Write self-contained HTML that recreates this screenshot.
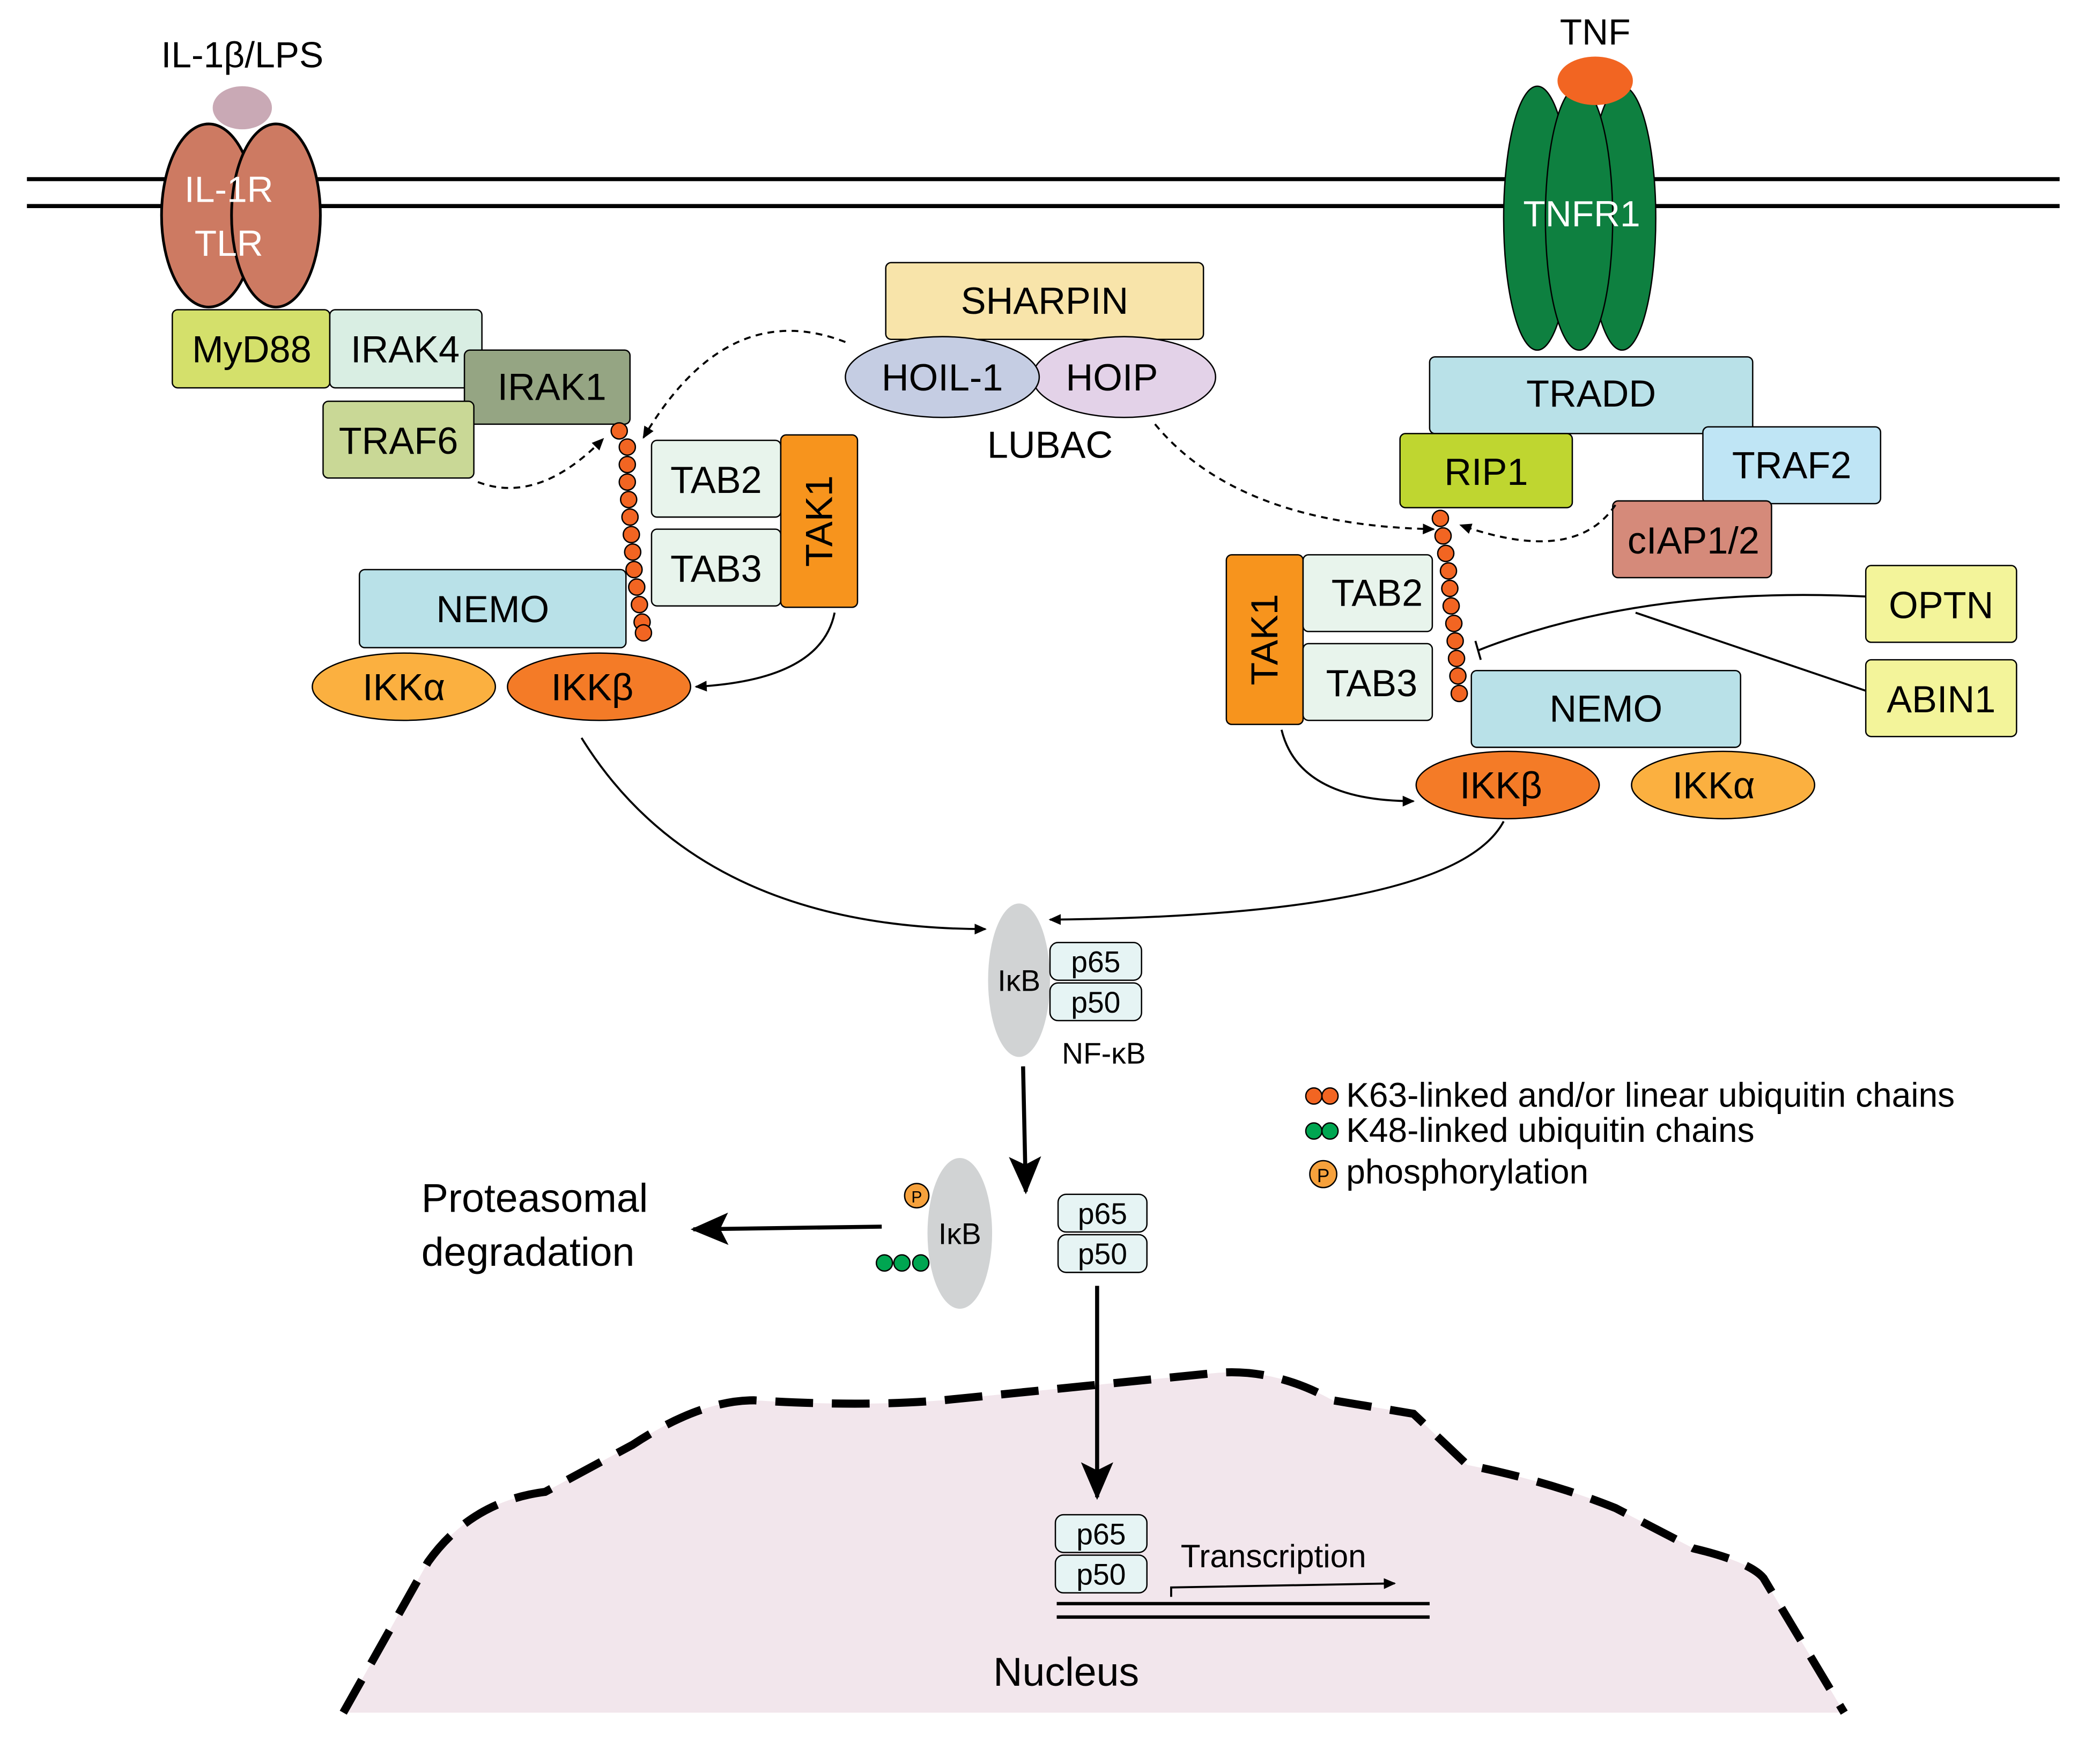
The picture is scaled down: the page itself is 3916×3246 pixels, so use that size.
<!DOCTYPE html>
<html><head><meta charset="utf-8"><style>
html,body{margin:0;padding:0;background:#fff;}
svg{display:block;}
text{font-family:"Liberation Sans",sans-serif;}
</style></head><body>
<svg width="3916" height="3246" viewBox="0 0 1560 1293" xmlns="http://www.w3.org/2000/svg">
<defs>
<marker id="a" markerWidth="10" markerHeight="10" refX="8" refY="5" orient="auto" markerUnits="userSpaceOnUse"><path d="M0,1 L9,5 L0,9 Z" fill="#000"/></marker>
<marker id="b" markerWidth="30" markerHeight="30" refX="26" refY="15" orient="auto" markerUnits="userSpaceOnUse"><path d="M0,3 L28,15 L0,27 L6,15 Z" fill="#000"/></marker>
</defs>
<rect width="1560" height="1293" fill="#fff"/>
<path d="M255,1272 L318,1160 Q350,1115 405,1108 L470,1073 Q520,1040 560,1040 Q640,1045 700,1040 Q800,1030 900,1020 Q945,1015 990,1040 L1050,1050 L1090,1088 Q1150,1100 1200,1120 L1258,1150 Q1300,1160 1310,1172 L1370,1272 Z" fill="#f2e6ec" stroke="none"/>
<path d="M255,1272 L318,1160 Q350,1115 405,1108 L470,1073 Q520,1040 560,1040 Q640,1045 700,1040 Q800,1030 900,1020 Q945,1015 990,1040 L1050,1050 L1090,1088 Q1150,1100 1200,1120 L1258,1150 Q1300,1160 1310,1172 L1370,1272" fill="none" stroke="#000" stroke-width="6" stroke-dasharray="28,14"/>
<line x1="20" y1="133" x2="1530" y2="133" stroke="#000" stroke-width="3"/>
<line x1="20" y1="153" x2="1530" y2="153" stroke="#000" stroke-width="3"/>
<ellipse cx="155" cy="160" rx="35" ry="68" fill="#cd7a62" stroke="#000" stroke-width="2"/>
<ellipse cx="205" cy="160" rx="33" ry="68" fill="#cd7a62" stroke="#000" stroke-width="2"/>
<ellipse cx="180" cy="80" rx="22" ry="16" fill="#c9a9b5"/>
<text x="180" y="50" font-size="27" text-anchor="middle">IL-1β/LPS</text>
<text x="170" y="150" font-size="27" fill="#fff" text-anchor="middle">IL-1R</text>
<text x="170" y="190" font-size="27" fill="#fff" text-anchor="middle">TLR</text>
<ellipse cx="1142" cy="162" rx="25" ry="98" fill="#0e8040" stroke="#000" stroke-width="1"/>
<ellipse cx="1205" cy="162" rx="25" ry="98" fill="#0e8040" stroke="#000" stroke-width="1"/>
<ellipse cx="1173" cy="162" rx="25" ry="98" fill="#0e8040" stroke="#000" stroke-width="1"/>
<ellipse cx="1185" cy="60" rx="28" ry="18" fill="#f26522"/>
<text x="1185" y="33" font-size="27" text-anchor="middle">TNF</text>
<text x="1175" y="168" font-size="27" fill="#fff" text-anchor="middle">TNFR1</text>
<g stroke="#000" stroke-width="1" font-size="27">
<rect x="128" y="230" width="117" height="58" rx="4" fill="#d4e06b"/>
<rect x="245" y="230" width="113" height="58" rx="4" fill="#d9eee3"/>
<rect x="345" y="260" width="123" height="55" rx="4" fill="#95a583"/>
<rect x="240" y="298" width="112" height="57" rx="4" fill="#c9d896"/>
<rect x="658" y="195" width="236" height="57" rx="4" fill="#f8e4aa"/>
<ellipse cx="835" cy="280" rx="68" ry="30" fill="#e3d2e8"/>
<ellipse cx="700" cy="280" rx="72" ry="30" fill="#c5cde3"/>
<rect x="484" y="327" width="96" height="57" rx="4" fill="#e8f4ec"/>
<rect x="484" y="393" width="96" height="57" rx="4" fill="#e8f4ec"/>
<rect x="580" y="323" width="57" height="128" rx="4" fill="#f7941d"/>
<rect x="267" y="423" width="198" height="58" rx="4" fill="#b9e1e8"/>
<ellipse cx="300" cy="510" rx="68" ry="25" fill="#fbb040"/>
<ellipse cx="445" cy="510" rx="68" ry="25" fill="#f47b27"/>
<rect x="1062" y="265" width="240" height="57" rx="4" fill="#b9e1e8"/>
<rect x="1265" y="317" width="132" height="57" rx="4" fill="#bfe5f5"/>
<rect x="1040" y="322" width="128" height="55" rx="4" fill="#bfd630"/>
<rect x="1198" y="372" width="118" height="57" rx="4" fill="#d58a7a"/>
<rect x="911" y="412" width="57" height="126" rx="4" fill="#f7941d"/>
<rect x="968" y="412" width="96" height="57" rx="4" fill="#e8f4ec"/>
<rect x="968" y="478" width="96" height="57" rx="4" fill="#e8f4ec"/>
<rect x="1093" y="498" width="200" height="57" rx="4" fill="#b9e1e8"/>
<ellipse cx="1120" cy="583" rx="68" ry="25" fill="#f47b27"/>
<ellipse cx="1280" cy="583" rx="68" ry="25" fill="#fbb040"/>
<rect x="1386" y="420" width="112" height="57" rx="4" fill="#f3f49a"/>
<rect x="1386" y="490" width="112" height="57" rx="4" fill="#f3f49a"/>
</g>
<g font-size="28" text-anchor="middle">
<text x="187" y="269">MyD88</text>
<text x="301" y="269">IRAK4</text>
<text x="410" y="297">IRAK1</text>
<text x="296" y="337">TRAF6</text>
<text x="776" y="233">SHARPIN</text>
<text x="700" y="290">HOIL-1</text>
<text x="826" y="290">HOIP</text>
<text x="780" y="340">LUBAC</text>
<text x="532" y="366">TAB2</text>
<text x="532" y="432">TAB3</text>
<text x="366" y="462">NEMO</text>
<text x="300" y="520">IKKα</text>
<text x="440" y="520">IKKβ</text>
<text x="1182" y="302">TRADD</text>
<text x="1104" y="360">RIP1</text>
<text x="1331" y="355">TRAF2</text>
<text x="1258" y="411">cIAP1/2</text>
<text x="1023" y="450">TAB2</text>
<text x="1019" y="517">TAB3</text>
<text x="1193" y="536">NEMO</text>
<text x="1115" y="593">IKKβ</text>
<text x="1273" y="593">IKKα</text>
<text x="1442" y="459">OPTN</text>
<text x="1442" y="529">ABIN1</text>
</g>
<text font-size="28" text-anchor="middle" transform="translate(618,387) rotate(-90)">TAK1</text>
<text font-size="28" text-anchor="middle" transform="translate(949,475) rotate(-90)">TAK1</text>
<g fill="#f26522" stroke="#000" stroke-width="1">
<circle cx="460" cy="320" r="6"/><circle cx="466" cy="332" r="6"/><circle cx="466" cy="345" r="6"/><circle cx="466" cy="358" r="6"/><circle cx="467" cy="371" r="6"/><circle cx="468" cy="384" r="6"/><circle cx="469" cy="397" r="6"/><circle cx="470" cy="410" r="6"/><circle cx="471" cy="423" r="6"/><circle cx="473" cy="436" r="6"/><circle cx="475" cy="449" r="6"/><circle cx="477" cy="462" r="6"/><circle cx="478" cy="470" r="6"/>
<circle cx="1070" cy="385" r="6"/><circle cx="1072" cy="398" r="6"/><circle cx="1074" cy="411" r="6"/><circle cx="1076" cy="424" r="6"/><circle cx="1077" cy="437" r="6"/><circle cx="1078" cy="450" r="6"/><circle cx="1080" cy="463" r="6"/><circle cx="1081" cy="476" r="6"/><circle cx="1082" cy="489" r="6"/><circle cx="1083" cy="502" r="6"/><circle cx="1084" cy="515" r="6"/>
</g>
<g fill="none" stroke="#000" stroke-width="1.5" stroke-dasharray="5,4">
<path d="M355,358 Q400,375 448,326" marker-end="url(#a)"/>
<path d="M628,254 Q540,220 478,325" marker-end="url(#a)"/>
<path d="M858,315 Q920,390 1065,393" marker-end="url(#a)"/>
<path d="M1200,375 Q1170,420 1085,390" marker-end="url(#a)"/>
</g>
<g fill="none" stroke="#000" stroke-width="1.5">
<path d="M620,455 Q610,505 517,510" marker-end="url(#a)"/>
<path d="M952,542 Q965,595 1050,595" marker-end="url(#a)"/>
<path d="M432,548 Q520,690 732,690" marker-end="url(#a)"/>
<path d="M1117,610 Q1080,680 780,683" marker-end="url(#a)"/>
<path d="M1386,443 Q1220,435 1098,483"/>
<line x1="1096" y1="476" x2="1100" y2="490"/>
<line x1="1386" y1="513" x2="1215" y2="455"/>
</g>
<ellipse cx="757" cy="728" rx="23" ry="57" fill="#d1d3d4"/>
<text x="757" y="736" font-size="22" text-anchor="middle">IκB</text>
<g stroke="#000" stroke-width="1" fill="#e6f4f4">
<rect x="780" y="700" width="68" height="28" rx="6"/><rect x="780" y="730" width="68" height="28" rx="6"/>
<rect x="786" y="887" width="66" height="28" rx="6"/><rect x="786" y="917" width="66" height="28" rx="6"/>
<rect x="784" y="1125" width="68" height="28" rx="6"/><rect x="784" y="1155" width="68" height="28" rx="6"/>
</g>
<g font-size="22" text-anchor="middle">
<text x="814" y="722">p65</text><text x="814" y="752">p50</text>
<text x="819" y="909">p65</text><text x="819" y="939">p50</text>
<text x="818" y="1147">p65</text><text x="818" y="1177">p50</text>
<text x="820" y="790">NF-κB</text>
</g>
<line x1="760" y1="792" x2="762" y2="885" stroke="#000" stroke-width="3" marker-end="url(#b)"/>
<ellipse cx="713" cy="916" rx="24" ry="56" fill="#d1d3d4"/>
<text x="713" y="924" font-size="22" text-anchor="middle">IκB</text>
<circle cx="681" cy="888" r="9" fill="#f6a13c" stroke="#000" stroke-width="1"/>
<text x="681" y="893" font-size="12" text-anchor="middle">P</text>
<g fill="#00a651" stroke="#000" stroke-width="1"><circle cx="657" cy="938" r="6"/><circle cx="670" cy="938" r="6"/><circle cx="684" cy="938" r="6"/></g>
<text x="313" y="900" font-size="30">Proteasomal</text>
<text x="313" y="940" font-size="30">degradation</text>
<line x1="655" y1="911" x2="515" y2="913" stroke="#000" stroke-width="3" marker-end="url(#b)"/>
<line x1="815" y1="955" x2="815" y2="1112" stroke="#000" stroke-width="3" marker-end="url(#b)"/>
<line x1="785" y1="1191" x2="1062" y2="1191" stroke="#000" stroke-width="2.5"/>
<line x1="785" y1="1201" x2="1062" y2="1201" stroke="#000" stroke-width="2.5"/>
<text x="946" y="1164" font-size="24" text-anchor="middle">Transcription</text>
<path d="M870,1186 L870,1179 L1036,1176" fill="none" stroke="#000" stroke-width="1.5" marker-end="url(#a)"/>
<text x="792" y="1252" font-size="30" text-anchor="middle">Nucleus</text>
<g stroke="#000" stroke-width="1">
<circle cx="976" cy="814" r="6" fill="#f26522"/><circle cx="988" cy="814" r="6" fill="#f26522"/>
<circle cx="976" cy="840" r="6" fill="#00a651"/><circle cx="988" cy="840" r="6" fill="#00a651"/>
<circle cx="983" cy="872" r="10" fill="#f6a13c"/>
</g>
<text x="983" y="878" font-size="14" text-anchor="middle">P</text>
<g font-size="25.5">
<text x="1000" y="822">K63-linked and/or linear ubiquitin chains</text>
<text x="1000" y="848">K48-linked ubiquitin chains</text>
<text x="1000" y="879">phosphorylation</text>
</g>
</svg>
</body></html>
